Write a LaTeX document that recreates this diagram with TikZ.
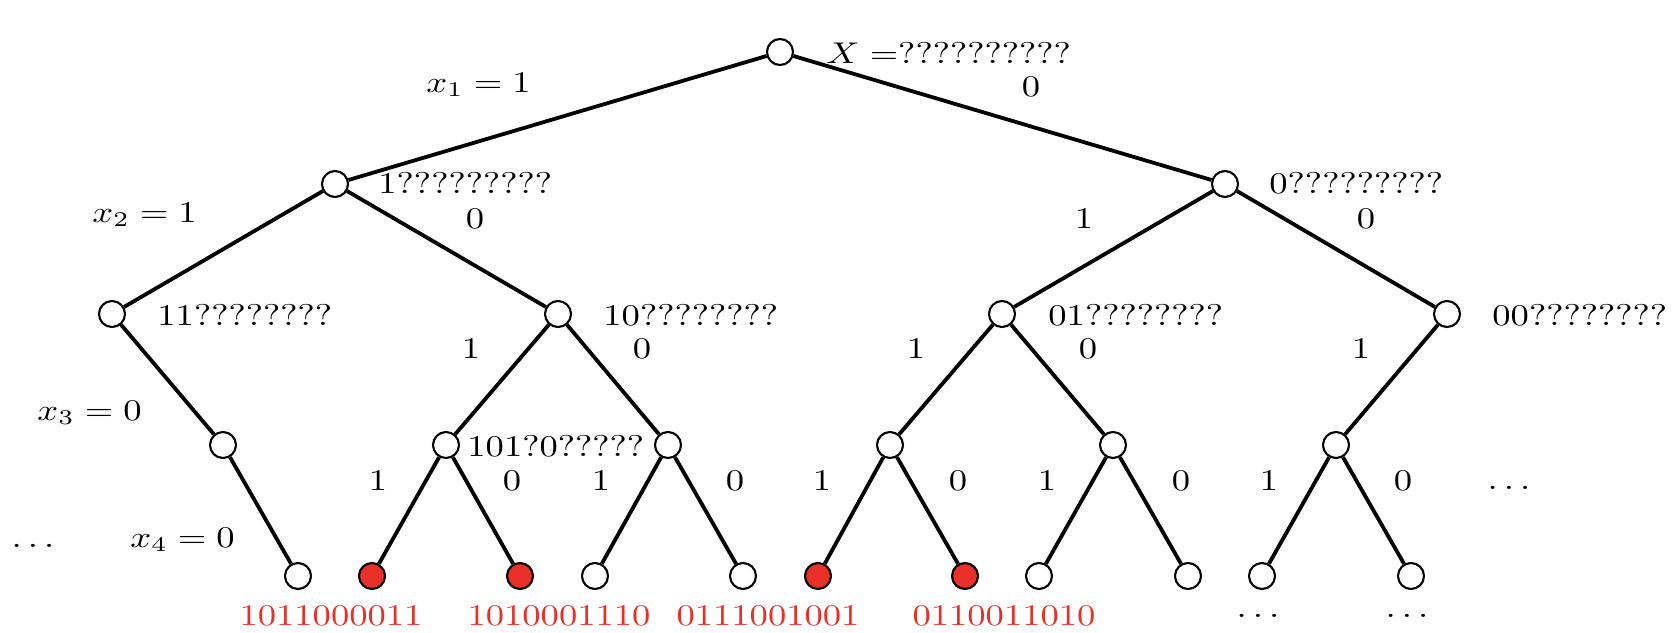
\documentclass[tikz,border=0pt]{standalone}
\definecolor{leafred}{RGB}{232,48,40}
\newcommand{\hs}[1]{\scalebox{1.83}[1.5]{#1}}
\begin{document}
\begin{tikzpicture}[x=0.5pt,y=-0.5pt,
  vtx/.style={circle,draw=black,line width=1.05pt,fill=white,minimum size=13pt,inner sep=0pt},
  hit/.style={vtx,fill=leafred},
  edge/.style={line width=1.9pt,black},
  lbl/.style={inner sep=0pt},
  lw/.style={lbl,anchor=base west},
  lc/.style={lbl,anchor=base},
  rl/.style={lc,text=leafred}]
\useasboundingbox (0,0) rectangle (1676,632);
% vertices
\node[vtx] (r) at (780,52) {};
\node[vtx] (a) at (335,184) {};
\node[vtx] (b) at (1225,184) {};
\node[vtx] (aa) at (112,314) {};
\node[vtx] (ab) at (558,314) {};
\node[vtx] (ba) at (1002,314) {};
\node[vtx] (bb) at (1447,314) {};
\node[vtx] (c1) at (223,445) {};
\node[vtx] (c2) at (446,445) {};
\node[vtx] (c3) at (668,445) {};
\node[vtx] (c4) at (890,445) {};
\node[vtx] (c5) at (1113,445) {};
\node[vtx] (c6) at (1336,445) {};
\node[vtx] (d1) at (298,576) {};
\node[hit] (d2) at (372,576) {};
\node[hit] (d3) at (520,576) {};
\node[vtx] (d4) at (595,576) {};
\node[vtx] (d5) at (743,576) {};
\node[hit] (d6) at (818,576) {};
\node[hit] (d7) at (965,576) {};
\node[vtx] (d8) at (1039,576) {};
\node[vtx] (d9) at (1188,576) {};
\node[vtx] (d10) at (1262,576) {};
\node[vtx] (d11) at (1411,576) {};
% edges
\foreach \p/\c in {r/a,r/b,a/aa,a/ab,b/ba,b/bb,aa/c1,ab/c2,ab/c3,ba/c4,ba/c5,bb/c6,
  c1/d1,c2/d2,c2/d3,c3/d4,c3/d5,c4/d6,c4/d7,c5/d8,c5/d9,c6/d10,c6/d11}
  \draw[edge] (\p) -- (\c);
% labels level 0
\node[lw] (t0) at (826,63) {\hs{$X =$??????????}};
\node[lw] (tx1) at (426,92) {\hs{$x_1 = 1$}};
\node[lc] (e0) at (1031,96) {\hs{0}};
% level 1
\node[lw] (t1a) at (378,193) {\hs{1?????????}};
\node[lw] (t1b) at (1269,193) {\hs{0?????????}};
\node[lw] (tx2) at (92,222) {\hs{$x_2 = 1$}};
\node[lc] (e1a) at (475,228) {\hs{0}};
\node[lc] (e1b) at (1084,228) {\hs{1}};
\node[lc] (e1c) at (1366,228) {\hs{0}};
% level 2
\node[lw] (t2a) at (157,325) {\hs{11????????}};
\node[lw] (t2b) at (603,325) {\hs{10????????}};
\node[lw] (t2c) at (1048,325) {\hs{01????????}};
\node[lw] (t2d) at (1492,325) {\hs{00????????}};
\node[lc] (e2a) at (471,358) {\hs{1}};
\node[lc] (e2b) at (642,358) {\hs{0}};
\node[lc] (e2c) at (916,358) {\hs{1}};
\node[lc] (e2d) at (1088,358) {\hs{0}};
\node[lc] (e2e) at (1361,358) {\hs{1}};
% level 3
\node[lw] (tx3) at (37,420) {\hs{$x_3 = 0$}};
\node[lw] (t3) at (467,456) {\hs{101?0?????}};
\node[lc] (e3a) at (378,490) {\hs{1}};
\node[lc] (e3b) at (512,490) {\hs{0}};
\node[lc] (e3c) at (601,490) {\hs{1}};
\node[lc] (e3d) at (735,490) {\hs{0}};
\node[lc] (e3e) at (822,490) {\hs{1}};
\node[lc] (e3f) at (958,490) {\hs{0}};
\node[lc] (e3g) at (1047,490) {\hs{1}};
\node[lc] (e3h) at (1181,490) {\hs{0}};
\node[lc] (e3i) at (1269,490) {\hs{1}};
\node[lc] (e3j) at (1403,490) {\hs{0}};
\node[lc] (e3k) at (1509,489) {\hs{$\ldots$}};
% level 4
\node[lw] (tx4) at (130,547) {\hs{$x_4 = 0$}};
\node[lc] (dl) at (33,547) {\hs{$\ldots$}};
\node[rl] (s1) at (331,625) {\hs{1011000011}};
\node[rl] (s2) at (559,625) {\hs{1010001110}};
\node[rl] (s3) at (768,625) {\hs{0111001001}};
\node[rl] (s4) at (1004,625) {\hs{0110011010}};
\node[lc] (u1) at (1258,617) {\hs{$\ldots$}};
\node[lc] (u2) at (1407,617) {\hs{$\ldots$}};
\end{tikzpicture}
\end{document}
